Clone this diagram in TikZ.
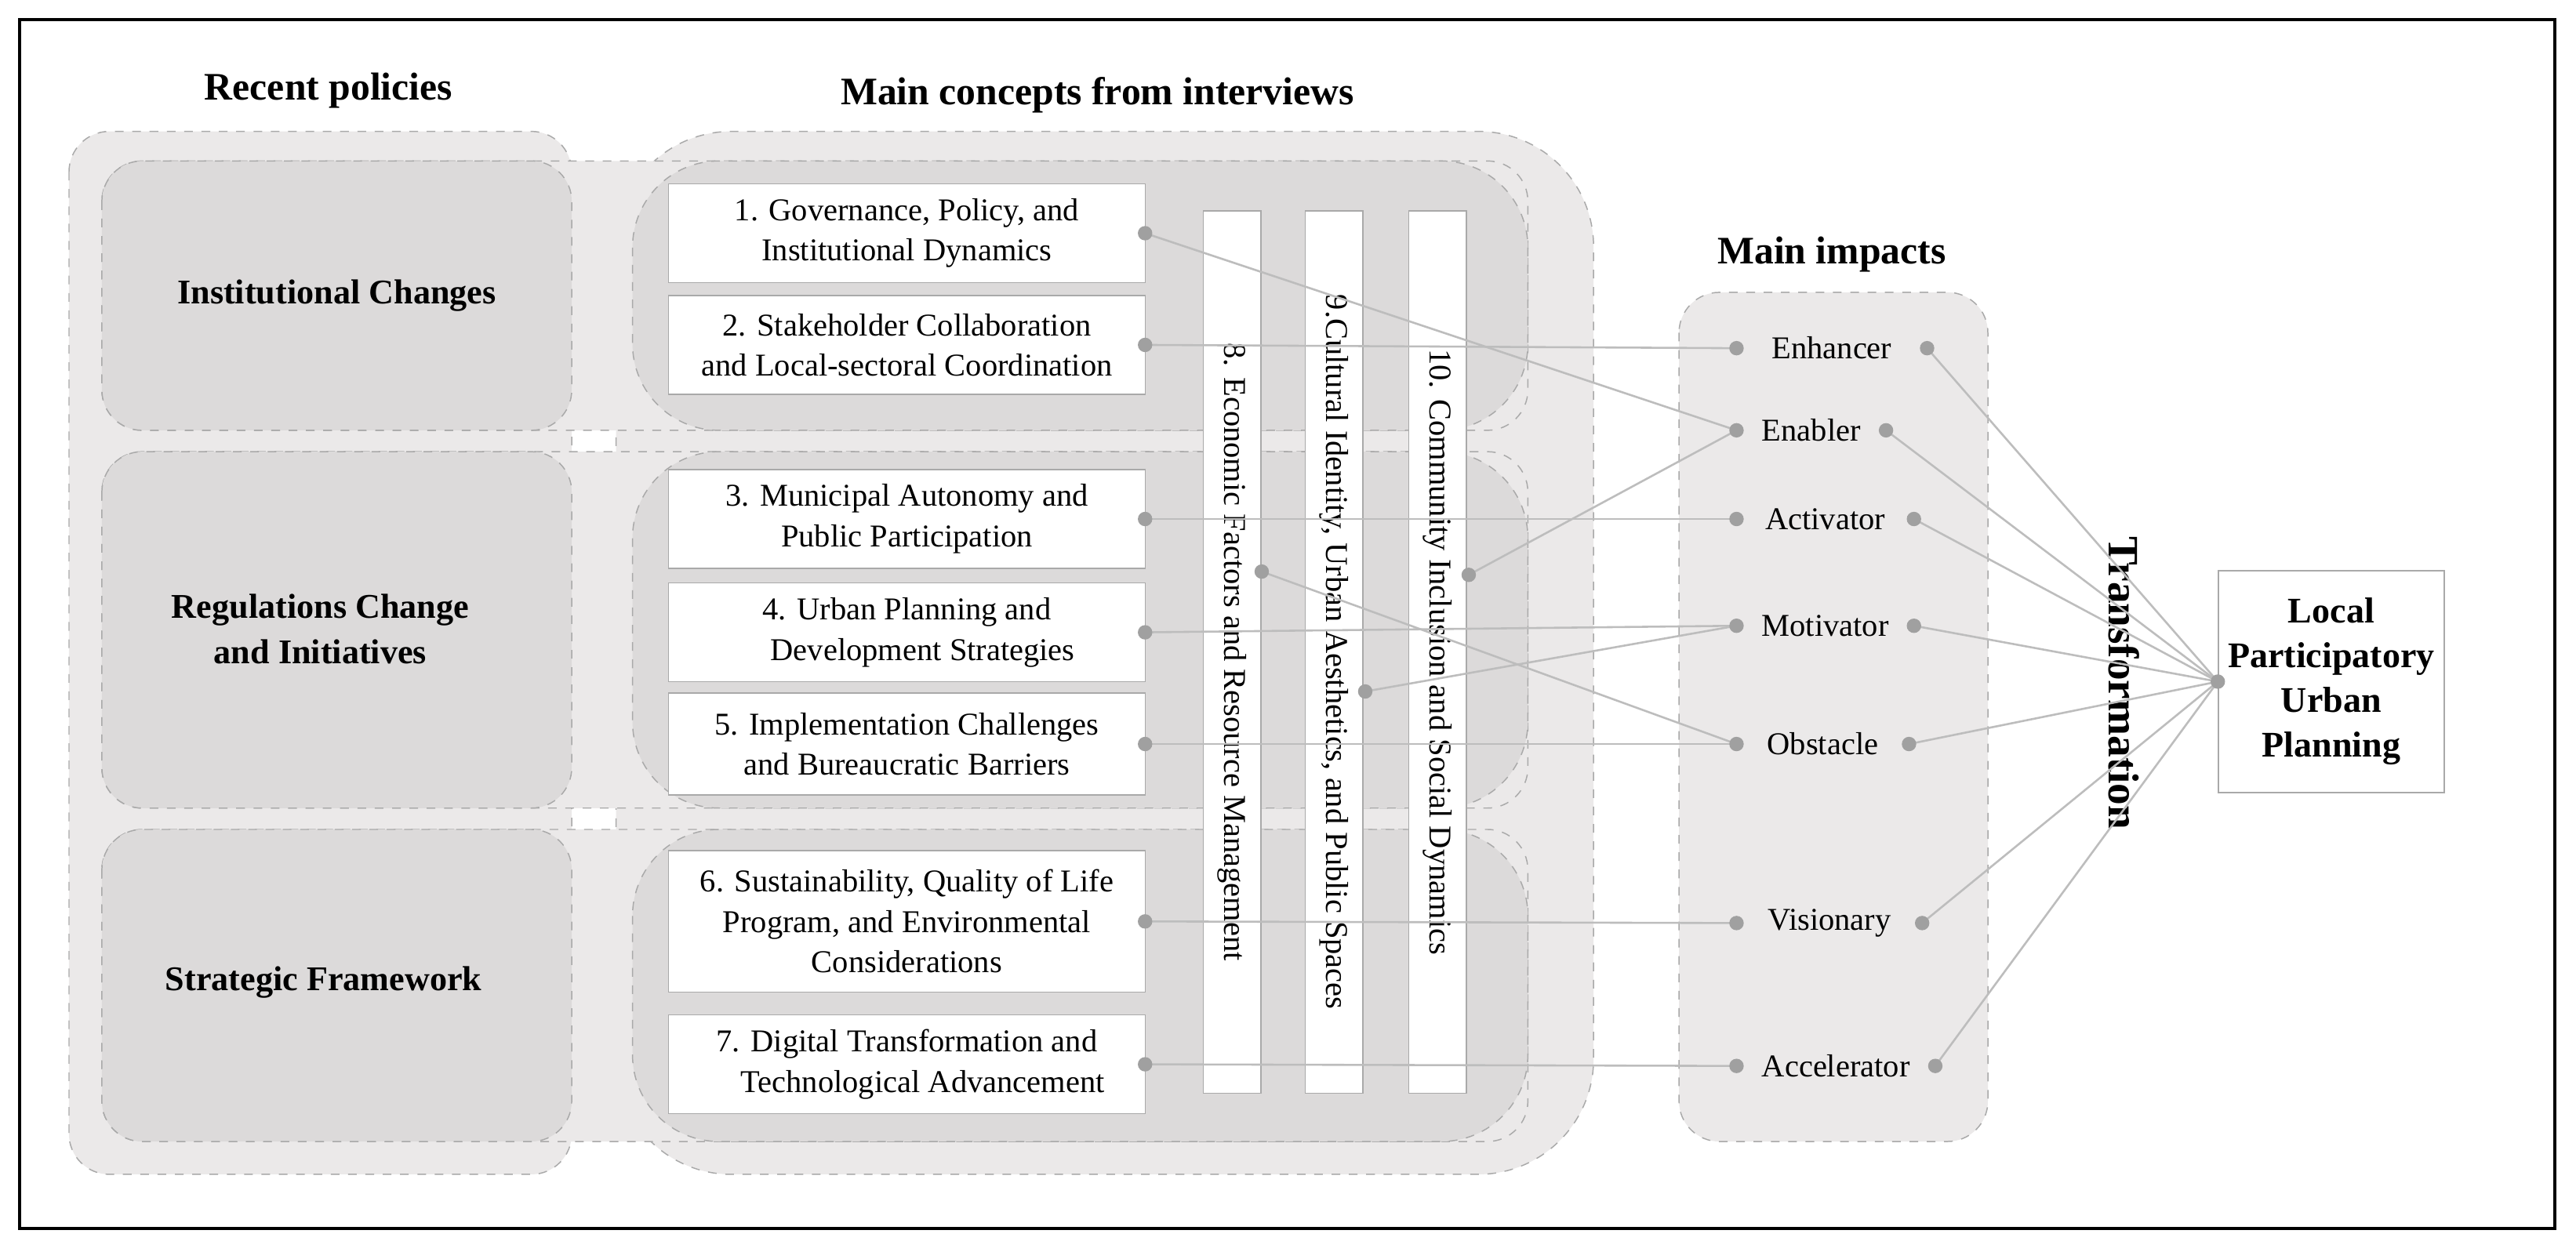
\documentclass[tikz,border=0pt]{standalone}
\usepackage{fontspec}
\setmainfont{Liberation Serif}
\usetikzlibrary{positioning}
\definecolor{paleg}{HTML}{EBE9E9}
\definecolor{darkg}{HTML}{DCDADA}
\definecolor{edgeg}{HTML}{A9A9A9}
\definecolor{lineg}{HTML}{BDBDBD}
\definecolor{dotg}{HTML}{A0A0A0}
\begin{document}
\begin{tikzpicture}[x=0.2mm, y=-0.2mm,
    zone/.style={draw=edgeg, dashed, fill=paleg, rounded corners=14pt},
    band/.style={draw=edgeg, dashed, fill=darkg, rounded corners=14pt},
    concept/.style={draw=edgeg, fill=white, align=center, font=\fontsize{11}{14}\selectfont, inner sep=0pt},
    bar/.style={draw=edgeg, fill=white, inner sep=0pt, minimum width=7mm, minimum height=107.4mm},
    heading/.style={font=\fontsize{13.5}{16}\selectfont\bfseries},
    rowlabel/.style={font=\fontsize{12}{16}\selectfont\bfseries, align=center},
    impact/.style={font=\fontsize{11}{14}\selectfont},
    link/.style={draw=lineg, line width=0.7pt},
    dot/.style={circle, fill=dotg, inner sep=0pt, minimum size=5pt}
]

% Background and frame
\fill[white] (0,0) rectangle (1568,762);
\draw[line width=1.2pt] (12,12) rectangle (1555,748);

% Headings
\node[heading] (hpol) at (200,55) {Recent policies};
\node[heading] (hcon) at (668,58) {Main concepts from interviews};
\node[heading] (himp) at (1115,155) {Main impacts};

% Columns
\path[zone] (42,80) rectangle (348,715);
\path[zone, rounded corners=40pt] (375,80) rectangle (970,715);

% Rows
\foreach \ya/\yb in {98/262, 275/492, 505/695} {
  \path[draw=edgeg, dashed, fill=paleg, rounded corners=14pt] (62,\ya) rectangle (930,\yb);
  \path[band] (62,\ya) rectangle (348,\yb);
  \path[band, rounded corners=30pt] (385,\ya) rectangle (930,\yb);
}
\node[rowlabel] (inst) at (205,180) {Institutional Changes};
\node[rowlabel] (regs) at (195,383) {Regulations Change\\and Initiatives};
\node[rowlabel] (strat) at (197,598) {Strategic Framework};

% Concepts
\node[concept, minimum width=58mm, minimum height=12mm] (c1) at (552,142) {1. Governance, Policy, and\\Institutional Dynamics};
\node[concept, minimum width=58mm, minimum height=12mm] (c2) at (552,210) {2. Stakeholder Collaboration\\and Local-sectoral Coordination};
\node[concept, minimum width=58mm, minimum height=12mm] (c3) at (552,316) {3. Municipal Autonomy and\\Public Participation};
\node[concept, minimum width=58mm, minimum height=12mm] (c4) at (552,385) {4. Urban Planning and\\\quad Development Strategies};
\node[concept, minimum width=58mm, minimum height=12.4mm] (c5) at (552,453) {5. Implementation Challenges\\and Bureaucratic Barriers};
\node[concept, minimum width=58mm, minimum height=17.2mm] (c6) at (552,561) {6. Sustainability, Quality of Life\\Program, and Environmental\\Considerations};
\node[concept, minimum width=58mm, minimum height=12mm] (c7) at (552,648) {7. Digital Transformation and\\\quad Technological Advancement};

\node[bar] (c8) at (750,397) {};
\node[bar] (c9) at (812,397) {};
\node[bar] (c10) at (875,397) {};
\node[impact, rotate=-90] at (c8) {8. Economic Factors and Resource Management};
\node[impact, rotate=-90] at (c9) {9.Cultural Identity, Urban Aesthetics, and Public Spaces};
\node[impact, rotate=-90] at (c10) {10. Community Inclusion and Social Dynamics};

% Impacts
\path[zone] (1022,178) rectangle (1210,695);
\foreach \name/\txt/\y/\xr in {enh/Enhancer/212/1173, ena/Enabler/262/1148, act/Activator/316/1165, mot/Motivator/381/1165, obs/Obstacle/453/1162, vis/Visionary/562/1170, acc/Accelerator/649/1178} {
  \node[impact] (\name) at ({(1057+\xr)/2},\y) {\txt};
  \coordinate (\name L) at (1057,\y);
  \coordinate (\name R) at (\xr,\y);
}

% Outcome
\node[font=\fontsize{15}{18}\selectfont\bfseries, rotate=-90] (trans) at (1293,416) {Transformation};
\node[draw=edgeg, fill=white, minimum width=24mm, minimum height=27mm, align=center, font=\fontsize{12.5}{15.5}\selectfont\bfseries] (lpup) at (1419,415) {Local\\Participatory\\Urban\\Planning};
\coordinate (hub) at (lpup.west);

% Dots on concepts
\coordinate (d1) at (697,142);
\coordinate (d2) at (697,210);
\coordinate (d3) at (697,316);
\coordinate (d4) at (697,385);
\coordinate (d5) at (697,453);
\coordinate (d6) at (697,561);
\coordinate (d7) at (697,648);
\coordinate (d8) at (768,348);
\coordinate (d9) at (831,421);
\coordinate (d10) at (894,350);

% Connections
\draw[link] (d1) -- (enaL);
\draw[link] (d2) -- (enhL);
\draw[link] (d3) -- (actL);
\draw[link] (d4) -- (motL);
\draw[link] (d5) -- (obsL);
\draw[link] (d6) -- (visL);
\draw[link] (d7) -- (accL);
\draw[link] (d8) -- (obsL);
\draw[link] (d9) -- (motL);
\draw[link] (d10) -- (enaL);
\foreach \name in {enh, ena, act, mot, obs, vis, acc}
  \draw[link] (\name R) -- (hub);

\foreach \p in {d1,d2,d3,d4,d5,d6,d7,d8,d9,d10,enhL,enaL,actL,motL,obsL,visL,accL,enhR,enaR,actR,motR,obsR,visR,accR,hub}
  \node[dot] at (\p) {};

\end{tikzpicture}
\end{document}
